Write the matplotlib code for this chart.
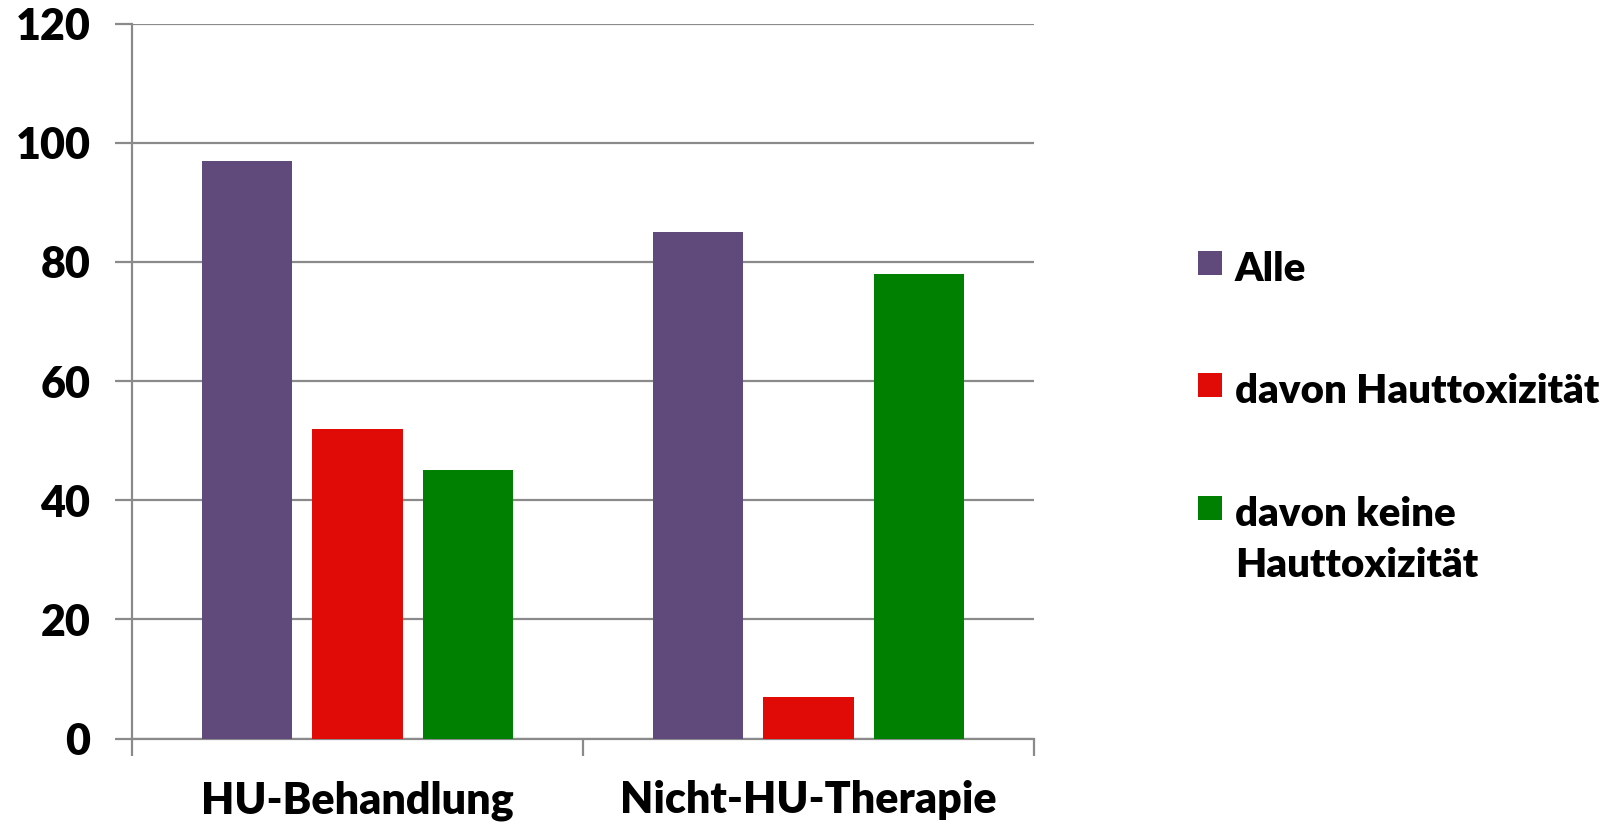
import matplotlib
matplotlib.use("Agg")
import matplotlib.pyplot as plt
import numpy as np
from matplotlib.patches import Rectangle

# Data
categories = ["HU-Behandlung", "Nicht-HU-Therapie"]
series_labels = ["Alle", "davon Hauttoxizität", "davon keine\nHauttoxizität"]
alle = [97, 85]
mit_tox = [52, 7]
ohne_tox = [45, 78]
y_ticks = [0, 20, 40, 60, 80, 100, 120]

colors = ["#604A7B", "#E00A07", "#008000"]
grid_color = "#8A8A8A"

plt.rcParams["font.family"] = ["Lato", "DejaVu Sans"]
plt.rcParams["font.weight"] = "bold"

fig = plt.figure(figsize=(16.06, 8.25), dpi=100)
W, H = 1606, 825
ax = fig.add_axes([132 / W, 1 - 738.5 / H, (1034 - 132) / W, (738.5 - 23.6) / H])

x = np.arange(len(categories))
width = 0.2
offsets = [-0.245, 0.0, 0.245]
for vals, off, col in zip([alle, mit_tox, ohne_tox], offsets, colors):
    ax.bar(x + off, vals, width=width, color=col, zorder=3)

ax.set_xlim(-0.5, len(categories) - 0.5)
ax.set_ylim(0, 120)
ax.set_yticks(y_ticks)
ax.set_yticklabels([str(v) for v in y_ticks], fontsize=31, fontweight="heavy")
ax.yaxis.grid(True, color=grid_color, linewidth=1.6, zorder=0)
ax.tick_params(axis="y", length=12, width=1.6, color=grid_color, pad=18)

# category boundary ticks on the x axis, labels centred between them
ax.set_xticks(np.arange(len(categories) + 1) - 0.5)
ax.set_xticklabels([])
ax.set_xticks(x, minor=True)
ax.set_xticklabels(categories, minor=True, fontsize=31, fontweight="heavy")
ax.tick_params(axis="x", which="major", length=12, width=1.6, color=grid_color)
ax.tick_params(axis="x", which="minor", length=0, pad=30)

for side in ["top", "right"]:
    ax.spines[side].set_visible(False)
ax.spines["left"].set_color(grid_color)
ax.spines["left"].set_linewidth(1.6)
ax.spines["bottom"].set_color(grid_color)
ax.spines["bottom"].set_linewidth(1.6)

# Legend drawn in figure pixel coordinates
sq = 24
baselines = [281, 403, 526]
line_step = 51
for lab, col, base in zip(series_labels, colors, baselines):
    top = base - 30
    fig.patches.append(Rectangle((1198 / W, 1 - (top + sq) / H), sq / W, sq / H,
                                 transform=fig.transFigure, facecolor=col, edgecolor="none"))
    for i, line in enumerate(lab.split("\n")):
        fig.text(1235 / W, 1 - (base + i * line_step) / H, line, fontsize=29,
                 fontweight="heavy", va="baseline", ha="left")

fig.savefig("out.png", dpi=100)
